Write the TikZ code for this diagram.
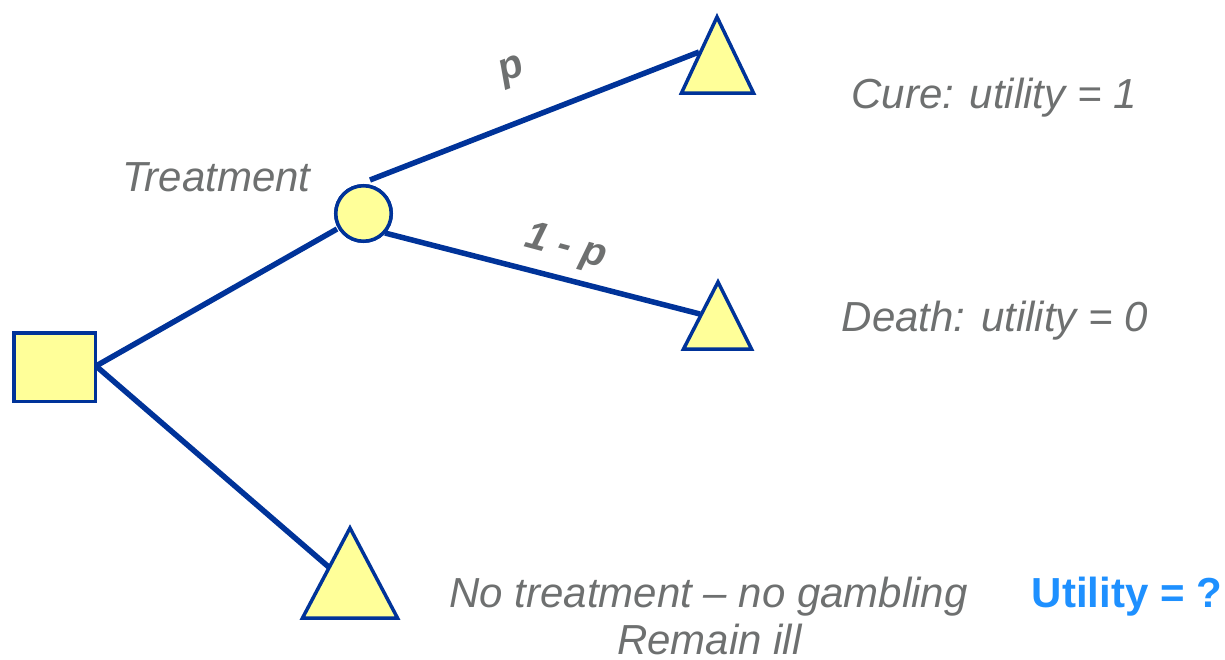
\documentclass[tikz,border=0pt]{standalone}
\usepackage{fontspec}
\setmainfont{Liberation Sans}
\definecolor{edgeblue}{RGB}{0,51,153}
\definecolor{nodefill}{RGB}{255,255,153}
\definecolor{txtgray}{RGB}{110,112,112}
\definecolor{utilblue}{RGB}{30,144,255}
\begin{document}
\begin{tikzpicture}[x=1pt,y=-1pt,
  branch/.style={draw=edgeblue,line width=5.5pt},
  shapeline/.style={draw=edgeblue,fill=nodefill,line width=3.5pt,line join=miter},
  decbox/.style={shapeline,rectangle,minimum width=81.5pt,minimum height=68.5pt,inner sep=0pt},
  chancenode/.style={shapeline,circle,minimum size=55.5pt,inner sep=0pt},
  gtext/.style={text=txtgray,font=\fontsize{42}{48}\selectfont\itshape,inner sep=0pt},
  ptext/.style={text=txtgray,font=\fontsize{40}{48}\selectfont\bfseries\itshape,inner sep=0pt}]
\useasboundingbox (0,0) rectangle (1225,659);
% nodes
\node[decbox] (d) at (54.5,367) {};
\node[chancenode] (c) at (363.5,213.5) {};
% connector coordinates
\coordinate (dout) at (96,366);
\coordinate (cin) at (337,229);
\coordinate (ctop) at (370,180);
\coordinate (cmid) at (385,233);
\coordinate (t1in) at (699,52);
\coordinate (t2in) at (700,314);
\coordinate (t3in) at (331,569);
% branches
\draw[branch] (dout) -- (cin);
\draw[branch] (dout) -- (t3in);
\draw[branch] (ctop) -- (t1in);
\draw[branch] (cmid) -- (t2in);
\node[chancenode] at (c) {};
% terminal triangles
\path[shapeline] (717,17) -- (753.5,93) -- (681.5,93) -- cycle;
\path[shapeline] (718,282) -- (751.5,349) -- (683.5,349) -- cycle;
\path[shapeline] (350,528) -- (397.5,618) -- (302.5,618) -- cycle;
% texts
\node[gtext,anchor=base] (tr) at (216.5,191) {Treatment};
\node[gtext,anchor=base] (cure) at (994,108) {Cure: utility = 1};
\node[gtext,anchor=base] (death) at (995,331) {Death: utility = 0};
\node[gtext,anchor=base] (nt) at (708.5,607) {No treatment – no gambling};
\node[gtext,anchor=base] (ri) at (709.5,654) {Remain ill};
\node[text=utilblue,font=\fontsize{42}{48}\selectfont\bfseries,inner sep=0pt,anchor=base] (u) at (1127,607) {Utility = ?};
\node[ptext,rotate=21] (p) at (513,72) {p};
\node[ptext,rotate=-15] (q) at (566,248) {1 - p};
\end{tikzpicture}
\end{document}
